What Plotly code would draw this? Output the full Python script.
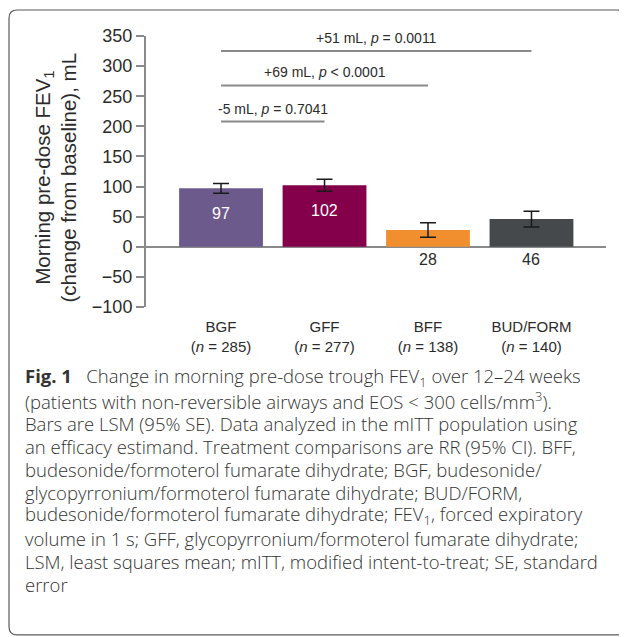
import plotly.graph_objects as go

# ---- data ----
categories = ["BGF", "GFF", "BFF", "BUD/FORM"]
n_values = [285, 277, 138, 140]
lsm = [97, 102, 28, 46]
se = [8, 10, 12, 13]
bar_colors = ["#6c5a8d", "#85004b", "#f18f2f", "#45494c"]

comp_from = [0, 0, 0]
comp_to = [3, 2, 1]
comp_y = [325, 268, 208]
comp_labels = ["+51 mL, <i>p</i> = 0.0011", "+69 mL, <i>p</i> &lt; 0.0001", "-5 mL, <i>p</i> = 0.7041"]

y_ticks = [-100, -50, 0, 50, 100, 150, 200, 250, 300, 350]

caption_lines = [
    "<b>Fig. 1</b>   Change in morning pre-dose trough FEV<sub>1</sub> over 12–24 weeks",
    "(patients with non-reversible airways and EOS &lt; 300 cells/mm<sup>3</sup>).",
    "Bars are LSM (95% SE). Data analyzed in the mITT population using",
    "an efficacy estimand. Treatment comparisons are RR (95% CI). BFF,",
    "budesonide/formoterol fumarate dihydrate; BGF, budesonide/",
    "glycopyrronium/formoterol fumarate dihydrate; BUD/FORM,",
    "budesonide/formoterol fumarate dihydrate; FEV<sub>1</sub>, forced expiratory",
    "volume in 1 s; GFF, glycopyrronium/formoterol fumarate dihydrate;",
    "LSM, least squares mean; mITT, modified intent-to-treat; SE, standard",
    "error",
]

AX = "#8a8a8a"
TXT = "#2b2b2b"
FONT = "Liberation Sans, Arial, sans-serif"
CAP_FONT = "Open Sans, Lato, sans-serif"

xpos = list(range(len(categories)))
tick_text = [f"{c}<br>(<i>n</i> = {n})" for c, n in zip(categories, n_values)]

fig = go.Figure()
fig.add_trace(go.Bar(
    x=xpos, y=lsm, width=0.81,
    marker=dict(color=bar_colors, line=dict(width=0)),
    error_y=dict(type="data", array=se, visible=True, color="#1a1a1a", thickness=1.5, width=8),
    hoverinfo="skip", showlegend=False,
))

annotations = []
# value labels
for x, v in zip(xpos, lsm):
    if v > 60:
        annotations.append(dict(x=x, y=v, xref="x", yref="y", text=str(v), showarrow=False,
                                yanchor="middle", yshift=-25,
                                font=dict(family=FONT, size=16, color="white")))
    else:
        annotations.append(dict(x=x, y=0, xref="x", yref="y", text=str(v), showarrow=False,
                                yanchor="middle", yshift=-13,
                                font=dict(family=FONT, size=16, color=TXT)))

shapes = []
# comparison brackets
for a, b, yv, lab in zip(comp_from, comp_to, comp_y, comp_labels):
    shapes.append(dict(type="line", xref="x", yref="y", x0=a, x1=b, y0=yv, y1=yv,
                       line=dict(color=AX, width=2)))
    annotations.append(dict(x=(a + b) / 2, y=yv, xref="x", yref="y", text=lab, showarrow=False,
                            yanchor="middle", yshift=13,
                            font=dict(family=FONT, size=14, color=TXT)))

# y-axis title
annotations.append(dict(x=0, y=0.5, xref="paper", yref="paper", xshift=-91, yshift=-6,
                        text="Morning pre-dose FEV<sub>1</sub><br>(change from baseline), mL",
                        textangle=-90, showarrow=False, xanchor="center", yanchor="middle",
                        font=dict(family=FONT, size=20.5, color=TXT)))

# caption
for i, line in enumerate(caption_lines):
    annotations.append(dict(x=0, y=0, xref="paper", yref="paper", xshift=-123, yshift=-70 - 23 * i,
                            text=line, showarrow=False, xanchor="left", yanchor="middle", align="left",
                            font=dict(family=CAP_FONT, size=18.5, color="#333333", weight=300)))

# frame with rounded corners (paper coords)
L, R, T, B = -0.2978, 1.0413, 1.096, -1.210
rx, ry = 0.018, 0.03
path = (f"M {L+rx},{T} L {R-rx},{T} Q {R},{T} {R},{T-ry} L {R},{B+ry} Q {R},{B} {R-rx},{B} "
        f"L {L+rx},{B} Q {L},{B} {L},{B+ry} L {L},{T-ry} Q {L},{T} {L+rx},{T} Z")
shapes.append(dict(type="path", xref="paper", yref="paper", path=path,
                   line=dict(color="#5a5a5a", width=1.2), layer="below"))

fig.update_layout(
    width=619, height=629,
    margin=dict(l=138, r=21, t=28, b=330),
    paper_bgcolor="white", plot_bgcolor="white",
    bargap=0.19,
    annotations=annotations, shapes=shapes,
    xaxis=dict(range=[-0.725, 3.72], tickvals=xpos, ticktext=tick_text,
               showline=False, showgrid=False, zeroline=False,
               ticks="outside", ticklen=6, tickcolor="rgba(0,0,0,0)",
               tickfont=dict(family=FONT, size=15, color=TXT)),
    yaxis=dict(range=[-100, 350], tickvals=y_ticks, showgrid=False,
               showline=True, linecolor=AX, linewidth=2,
               ticks="outside", ticklen=8, tickwidth=2, tickcolor=AX,
               zeroline=True, zerolinecolor=AX, zerolinewidth=2,
               tickfont=dict(family=FONT, size=18, color=TXT)),
)

fig.write_html("out.html")
